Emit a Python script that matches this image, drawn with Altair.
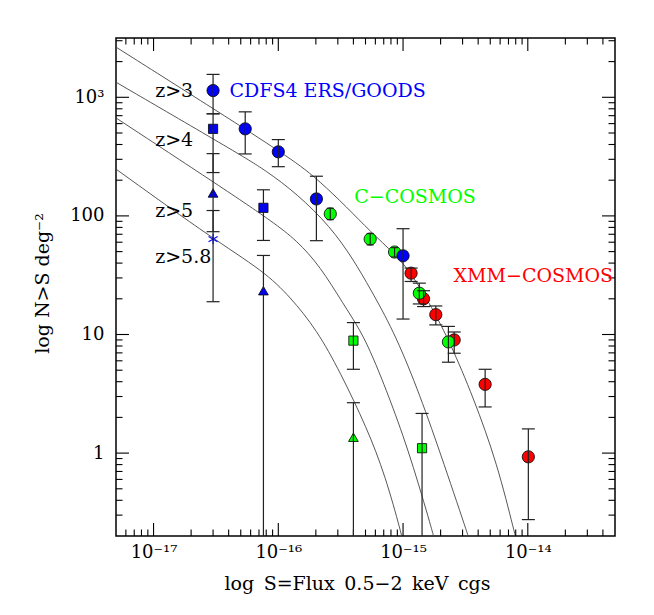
import altair as alt
import pandas as pd

# ---------------- data ----------------
# CDFS4 ERS/GOODS (blue)
blue_circ_x = [3.0e-17, 5.43e-17, 1.0e-16, 2.02e-16, 1.0e-15]
blue_circ_y = [1140, 542, 347, 139, 46.1]
blue_circ_lo = [726, 333, 260, 61.8, 13.5]
blue_circ_hi = [1560, 754, 440, 216, 78]

blue_sq_x = [3.0e-17, 7.6e-17]
blue_sq_y = [542, 117]
blue_sq_lo = [232, 62.1]
blue_sq_hi = [726, 166]

blue_tri_x = [3.0e-17, 7.6e-17]
blue_tri_y = [156, 23.4]
blue_tri_lo = [73.6, 0.05]
blue_tri_hi = [335, 46.4]

blue_star_x = [3.0e-17]
blue_star_y = [63.8]
blue_star_lo = [18.9]
blue_star_hi = [111]

# C-COSMOS (green)
green_circ_x = [2.61e-16, 5.45e-16, 8.55e-16, 1.35e-15, 2.31e-15]
green_circ_y = [104, 63.8, 49.6, 22.3, 8.66]
green_circ_lo = [93, 57, 45, 18.1, 5.84]
green_circ_hi = [116, 71, 54, 27.1, 11.7]
green_circ_cap = [49, 49, 49, 169, 169]

green_sq_x = [4.0e-16, 1.42e-15]
green_sq_y = [8.88, 1.1]
green_sq_lo = [5.09, 0.05]
green_sq_hi = [12.6, 2.16]

green_tri_x = [4.0e-16]
green_tri_y = [1.36]
green_tri_lo = [0.05]
green_tri_hi = [2.66]

# XMM-COSMOS (red)
red_circ_x = [1.16e-15, 1.46e-15, 1.83e-15, 2.57e-15, 4.55e-15, 1.01e-14]
red_circ_y = [32.9, 20.0, 14.7, 9.0, 3.80, 0.93]
red_circ_lo = [28.0, 17.2, 12.05, 6.95, 2.45, 0.275]
red_circ_hi = [36.3, 23.4, 17.4, 10.5, 5.09, 1.6]

# model curves
c1_x = [5.0e-18, 5.43e-17, 1.07e-16, 1.5e-16, 2.1e-16, 3.56e-16, 5.45e-16, 8.65e-16, 1.16e-15, 1.7e-15, 2.39e-15, 3.65e-15, 5.68e-15, 7.93e-15, 8.3e-15]
c1_y = [2650, 542, 338, 265, 200, 118, 74, 47.5, 33.1, 17.0, 8.49, 2.97, 0.824, 0.2, 0.17]
c2_x = [5.0e-18, 4.95e-17, 7.9e-17, 1.41e-16, 2.61e-16, 4.01e-16, 5.46e-16, 8.34e-16, 1.29e-15, 1.98e-15, 3.33e-15, 3.5e-15]
c2_y = [1340, 329, 242, 154, 81.5, 42.7, 24.3, 10.9, 3.63, 1.02, 0.2, 0.17]
c3_x = [5.0e-18, 4.12e-17, 9.0e-17, 1.41e-16, 2.17e-16, 3.33e-16, 4.54e-16, 5.77e-16, 7.89e-16, 1.14e-15, 1.74e-15, 1.8e-15]
c3_y = [670, 156, 89, 62, 37.4, 18.0, 10.9, 6.4, 2.81, 0.96, 0.21, 0.18]
c4_x = [5.0e-18, 2.9e-17, 7.6e-17, 1.245e-16, 2.04e-16, 3.13e-16, 5.13e-16, 7.19e-16, 9.77e-16, 1.01e-15]
c4_y = [248, 65.5, 34.4, 20.8, 10.9, 4.83, 1.63, 0.65, 0.203, 0.17]

# annotations
label_text = ["z>3", "z>4", "z>5", "z>5.8", "CDFS4 ERS/GOODS", "C−COSMOS", "XMM−COSMOS"]
label_x = [1.03e-17, 1.03e-17, 1.03e-17, 1.03e-17, 4.06e-17, 4.06e-16, 2.54e-15]
label_y = [1140, 440, 111, 44.6, 1140, 144.5, 31.4]
label_color = ["black", "black", "black", "black", "#0000ff", "#00ff00", "#ff0000"]

# axis ticks
x_tick_vals = [1e-17, 1e-16, 1e-15, 1e-14]
x_tick_text = ["10⁻¹⁷", "10⁻¹⁶", "10⁻¹⁵", "10⁻¹⁴"]
y_tick_vals = [1, 10, 100, 1000]
y_tick_text = ["1", "10", "100", "10³"]

# ---------------- build tables ----------------
def pts(xs, ys, los, his, color, shape, caps=None):
    caps = caps or [169] * len(xs)
    return pd.DataFrame({"x": xs, "y": ys, "lo": los, "hi": his,
                         "col": color, "shape": shape, "cap": caps})

BLUE, GREEN, RED = "#0000ff", "#00ff00", "#ff0000"
filled = pd.concat([
    pts(red_circ_x, red_circ_y, red_circ_lo, red_circ_hi, RED, "circle"),
    pts(green_circ_x, green_circ_y, green_circ_lo, green_circ_hi, GREEN, "circle", green_circ_cap),
    pts(green_sq_x, green_sq_y, green_sq_lo, green_sq_hi, GREEN, "square"),
    pts(green_tri_x, green_tri_y, green_tri_lo, green_tri_hi, GREEN, "triangle-up"),
    pts(blue_circ_x, blue_circ_y, blue_circ_lo, blue_circ_hi, BLUE, "circle"),
    pts(blue_sq_x, blue_sq_y, blue_sq_lo, blue_sq_hi, BLUE, "square"),
    pts(blue_tri_x, blue_tri_y, blue_tri_lo, blue_tri_hi, BLUE, "triangle-up"),
], ignore_index=True)
star = pts(blue_star_x, blue_star_y, blue_star_lo, blue_star_hi, BLUE, "star")
allpts = pd.concat([filled, star], ignore_index=True)
size_map = {"circle": 150, "square": 85, "triangle-up": 95}
filled["size"] = filled["shape"].map(size_map)

caps = pd.concat([
    pd.DataFrame({"x": allpts["x"], "v": allpts["lo"], "cap": allpts["cap"]}),
    pd.DataFrame({"x": allpts["x"], "v": allpts["hi"], "cap": allpts["cap"]}),
], ignore_index=True)

curves = pd.concat([
    pd.DataFrame({"c": "z>3", "x": c1_x, "y": c1_y}),
    pd.DataFrame({"c": "z>4", "x": c2_x, "y": c2_y}),
    pd.DataFrame({"c": "z>5", "x": c3_x, "y": c3_y}),
    pd.DataFrame({"c": "z>5.8", "x": c4_x, "y": c4_y}),
], ignore_index=True)

labels = pd.DataFrame({"t": label_text, "x": label_x, "y": label_y, "col": label_color})

x_major = x_tick_vals
x_minor = [m * 10.0 ** e for e in range(-18, -13) for m in range(2, 10)
           if 5e-18 < m * 10.0 ** e < 5e-14]
y_major = y_tick_vals
y_minor = [m * 10.0 ** e for e in range(-1, 4) for m in range(2, 10)
           if 0.2 < m * 10.0 ** e < 3162]

W, H = 499, 498
SERIF = "DejaVu Serif"
xscale = alt.Scale(type="log", domain=[5e-18, 5e-14], nice=False)
yscale = alt.Scale(type="log", domain=[0.2, 3162.28], nice=False)


def expr_from(vals, texts):
    e = "''"
    for v, t in reversed(list(zip(vals, texts))):
        e = f"(abs(log(datum.value) - log({v})) < 0.1 ? '{t}' : {e})"
    return e


xaxis = alt.Axis(values=x_tick_vals, labelExpr=expr_from(x_tick_vals, x_tick_text),
                 ticks=False, domain=False, grid=False, labelPadding=7,
                 labelFont=SERIF, labelFontSize=18, labelColor="black",
                 title="log\u2002S=Flux\u20020.5−2\u2002keV\u2002cgs", titleFont=SERIF,
                 titleFontSize=19, titleFontWeight="normal", titleColor="black",
                 titleX=241, titleY=47, titleBaseline="middle", labelFlush=False)
yaxis = alt.Axis(values=y_tick_vals, labelExpr=expr_from(y_tick_vals, y_tick_text),
                 ticks=False, domain=False, grid=False, labelPadding=12,
                 labelFont=SERIF, labelFontSize=18, labelColor="black",
                 title="log N>S deg⁻²", titleFont=SERIF, titleFontSize=19,
                 titleFontWeight="normal", titleColor="black",
                 titleX=-74, titleY=245, titleBaseline="middle", titleAngle=270,
                 labelFlush=False)

curve_layer = alt.Chart(curves).mark_line(color="#444444", strokeWidth=0.9,
                                          clip=True, interpolate="basis").encode(
    x=alt.X("x:Q", scale=xscale, axis=xaxis),
    y=alt.Y("y:Q", scale=yscale, axis=yaxis),
    detail="c:N",
)

point_layer = alt.Chart(filled).mark_point(filled=True, opacity=1, stroke="black",
                                           strokeWidth=0.8, clip=True).encode(
    x=alt.X("x:Q", scale=xscale),
    y=alt.Y("y:Q", scale=yscale),
    fill=alt.Fill("col:N", scale=None),
    shape=alt.Shape("shape:N", scale=None),
    size=alt.Size("size:Q", scale=None),
)

ASTER = "M0,-1L0,1M-0.866,-0.5L0.866,0.5M-0.866,0.5L0.866,-0.5"
star_layer = alt.Chart(star).mark_point(shape=ASTER, filled=False, stroke=BLUE,
                                        strokeWidth=1.1, size=110, opacity=1).encode(
    x=alt.X("x:Q", scale=xscale),
    y=alt.Y("y:Q", scale=yscale),
)

err_layer = alt.Chart(allpts).mark_rule(color="#222222", strokeWidth=1.2, clip=True).encode(
    x=alt.X("x:Q", scale=xscale),
    y=alt.Y("lo:Q", scale=yscale),
    y2="hi:Q",
)

cap_layer = alt.Chart(caps).mark_point(shape="M-1,0L1,0", filled=False, stroke="#222222",
                                       strokeWidth=1.2, opacity=1, clip=True).encode(
    x=alt.X("x:Q", scale=xscale),
    y=alt.Y("v:Q", scale=yscale),
    size=alt.Size("cap:Q", scale=None),
)

text_layer = alt.Chart(labels).mark_text(align="left", baseline="middle", font=SERIF,
                                         fontSize=19).encode(
    x=alt.X("x:Q", scale=xscale),
    y=alt.Y("y:Q", scale=yscale),
    text="t:N",
    color=alt.Color("col:N", scale=None),
)


def xticks(vals, length, top):
    df = pd.DataFrame({"v": vals})
    y0 = 0 if top else H
    y1 = length if top else H - length
    return alt.Chart(df).mark_rule(color="black", strokeWidth=1.1).encode(
        x=alt.X("v:Q", scale=xscale), y=alt.value(y0), y2=alt.value(y1))


def yticks(vals, length, right):
    df = pd.DataFrame({"v": vals})
    x0 = W if right else 0
    x1 = W - length if right else length
    return alt.Chart(df).mark_rule(color="black", strokeWidth=1.1).encode(
        y=alt.Y("v:Q", scale=yscale), x=alt.value(x0), x2=alt.value(x1))


tick_layers = [
    xticks(x_major, 13, False), xticks(x_minor, 6.5, False),
    xticks(x_major, 13, True), xticks(x_minor, 6.5, True),
    yticks(y_major, 13, False), yticks(y_minor, 6.5, False),
    yticks(y_major, 13, True), yticks(y_minor, 6.5, True),
]

chart = alt.layer(
    curve_layer, *tick_layers, point_layer, star_layer, err_layer, cap_layer, text_layer
).properties(
    width=W, height=H,
    autosize=alt.AutoSizeParams(type="none"),
    padding={"left": 108, "top": 30, "right": 31, "bottom": 60},
    background="white",
).configure_view(
    stroke="black", strokeWidth=1.5
)

chart.save("out.html", embed_options={"renderer": "svg", "actions": False})
